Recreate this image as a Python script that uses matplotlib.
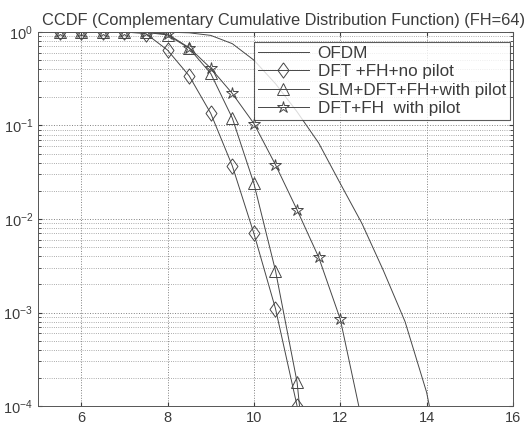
import numpy as np
import matplotlib.pyplot as plt
from matplotlib.ticker import LogLocator, FixedLocator, NullFormatter

plt.rcParams['font.family'] = ['Liberation Sans', 'DejaVu Sans']

# CCDF data (PAPR threshold in dB)
x_ofdm = [5.5, 6, 6.5, 7, 7.5, 8, 8.5, 9, 9.5, 10, 10.5, 11, 11.5, 12, 12.5, 13, 13.5, 14, 14.5]
ccdf_ofdm = [1.0, 1.0, 1.0, 1.0, 1.0, 0.995, 0.98, 0.92, 0.75, 0.5, 0.28, 0.14, 0.065,
             0.024, 0.009, 0.0028, 8e-4, 1.4e-4, 1e-5]

x_nopilot = [5.5, 6, 6.5, 7, 7.5, 8, 8.5, 9, 9.5, 10, 10.5, 11]
ccdf_nopilot = [1.0, 1.0, 1.0, 1.0, 0.96, 0.64, 0.34, 0.135, 0.037, 0.007, 0.0011, 1e-4]

x_slm = [5.5, 6, 6.5, 7, 7.5, 8, 8.5, 9, 9.5, 10, 10.5, 11, 11.5]
ccdf_slm = [1.0, 1.0, 1.0, 1.0, 0.99, 0.93, 0.67, 0.36, 0.12, 0.024, 0.0028, 1.8e-4, 1e-6]

x_pilot = [5.5, 6, 6.5, 7, 7.5, 8, 8.5, 9, 9.5, 10, 10.5, 11, 11.5, 12, 12.5]
ccdf_pilot = [1.0, 1.0, 1.0, 1.0, 0.99, 0.95, 0.68, 0.41, 0.22, 0.105, 0.038, 0.0125,
              0.0039, 8.5e-4, 7e-5]

labels = ['OFDM', 'DFT +FH+no pilot', 'SLM+DFT+FH+with pilot', 'DFT+FH  with pilot']

line_c = '#474747'
text_c = '#3c3c3c'
diamond = [(0, 1), (0.72, 0), (0, -1), (-0.72, 0), (0, 1)]

fig = plt.figure(figsize=(5.27, 4.30), dpi=100)
ax = fig.add_axes([0.0721, 0.0558, 0.9013, 0.8698])

ax.semilogy(x_ofdm, ccdf_ofdm, '-', color=line_c, lw=0.7, label=labels[0])
ax.semilogy(x_nopilot, ccdf_nopilot, '-', marker=diamond, color=line_c, lw=0.7,
            ms=11, mfc='none', mew=0.7, label=labels[1])
ax.semilogy(x_slm, ccdf_slm, '-', marker='^', color=line_c, lw=0.7,
            ms=8, mfc='none', mew=0.7, label=labels[2])
ax.semilogy(x_pilot, ccdf_pilot, '-', marker='*', color=line_c, lw=0.7,
            ms=9, mfc='none', mew=0.7, label=labels[3])

ax.set_xlim(5, 16)
ax.set_ylim(1e-4, 1)
ax.xaxis.set_major_locator(FixedLocator([6, 8, 10, 12, 14, 16]))
ax.yaxis.set_major_locator(LogLocator(base=10, numticks=10))
ax.yaxis.set_minor_locator(LogLocator(base=10, subs=np.arange(2, 10), numticks=20))
ax.yaxis.set_minor_formatter(NullFormatter())

ax.grid(True, which='major', axis='both', ls=':', color='#808080', lw=0.7)
ax.grid(True, which='minor', axis='y', ls=':', color='#909090', lw=0.6)

ax.tick_params(which='both', direction='in', colors=text_c, labelsize=10.5,
               top=True, right=True, length=3)
ax.tick_params(which='minor', length=2)
for s in ax.spines.values():
    s.set_color('#555555')
    s.set_linewidth(0.7)

ax.set_title('CCDF (Complementary Cumulative Distribution Function) (FH=64)',
             fontsize=11.8, color=text_c, pad=5, x=0.516)

leg = ax.legend(loc='upper right', bbox_to_anchor=(0.994, 0.973), fontsize=12.3,
                frameon=True, fancybox=False, edgecolor='#333333',
                handlelength=3.0, borderpad=0.25, labelspacing=0.18,
                handletextpad=0.5, borderaxespad=0)
leg.get_frame().set_linewidth(0.8)
for t in leg.get_texts():
    t.set_color(text_c)

fig.savefig('out.png', dpi=100)
